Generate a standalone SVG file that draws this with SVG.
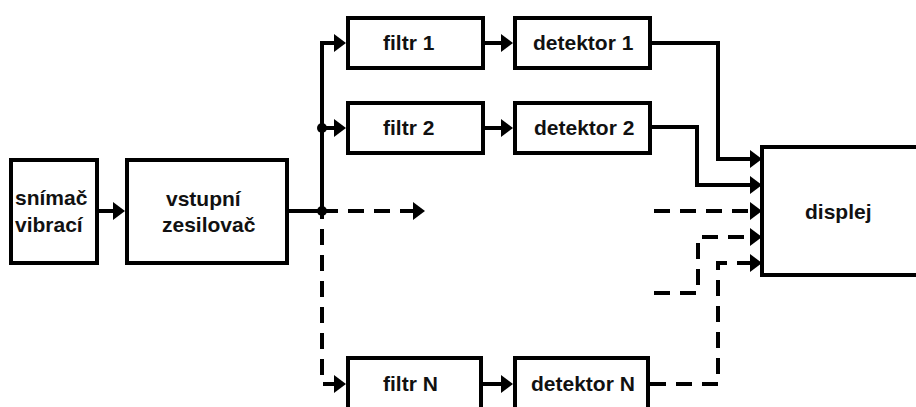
<svg xmlns="http://www.w3.org/2000/svg" width="916" height="407" viewBox="0 0 916 407">
  <style>
    .box { fill: #ffffff; stroke: #000000; stroke-width: 4; }
    .lbl { font-family: "Liberation Sans", Arial, sans-serif; font-weight: bold; font-size: 21px; fill: #111111; }
    .wire { fill: none; stroke: #000000; stroke-width: 4; stroke-linejoin: miter; }
    .arrow { marker-end: url(#head); }
    .dash { stroke-dasharray: 16 10; }
  </style>
  <defs>
    <marker id="head" viewBox="0 0 12 18" refX="9" refY="9" markerWidth="12" markerHeight="18" markerUnits="userSpaceOnUse" orient="auto">
      <path d="M0,0 L12,9 L0,18 z" fill="#000000"/>
    </marker>
  </defs>
  <rect width="916" height="407" fill="#ffffff"/>

  <!-- signal connectors -->
  <g id="connectors">
    <path class="wire arrow" d="M99 211 H122"/>
    <path class="wire" d="M289 211 H322"/>
    <path class="wire arrow" d="M322 211 V43 H343"/>
    <path class="wire arrow" d="M322 128 H343"/>
    <path class="wire dash arrow" d="M322 211 H422"/>
    <path class="wire dash arrow" d="M322 211 V384 H343" stroke-dashoffset="8"/>
    <path class="wire arrow" d="M485 43 H510"/>
    <path class="wire arrow" d="M485 128 H510"/>
    <path class="wire arrow" d="M483 384 H510"/>
    <path class="wire arrow" d="M652 43 H718 V159 H759"/>
    <path class="wire arrow" d="M652 127 H697 V185 H759"/>
    <path class="wire dash arrow" d="M654 211 H759"/>
    <path class="wire dash arrow" d="M654 293 H698 V237 H759"/>
    <path class="wire dash arrow" d="M650 384 H718 V263 H759"/>
    <circle cx="322" cy="211" r="5" fill="#000000"/>
    <circle cx="322" cy="128" r="5" fill="#000000"/>
  </g>

  <g id="snimac">
    <rect class="box" x="11" y="160" width="86" height="103"/>
    <text class="lbl" x="15" y="205">snímač</text>
    <text class="lbl" x="15" y="232">vibrací</text>
  </g>

  <g id="zesilovac">
    <rect class="box" x="127" y="160" width="160" height="103"/>
    <text class="lbl" x="166" y="206">vstupní</text>
    <text class="lbl" x="162" y="232">zesilovač</text>
  </g>

  <g id="filtr1">
    <rect class="box" x="348" y="18" width="135" height="50"/>
    <text class="lbl" x="383" y="50">filtr 1</text>
  </g>
  <g id="detektor1">
    <rect class="box" x="515" y="18" width="135" height="50"/>
    <text class="lbl" x="533" y="50">detektor 1</text>
  </g>

  <g id="filtr2">
    <rect class="box" x="348" y="103" width="135" height="50"/>
    <text class="lbl" x="383" y="135">filtr 2</text>
  </g>
  <g id="detektor2">
    <rect class="box" x="515" y="103" width="135" height="50"/>
    <text class="lbl" x="534" y="135">detektor 2</text>
  </g>

  <g id="filtrN">
    <rect class="box" x="348" y="358" width="133" height="54"/>
    <text class="lbl" x="383" y="391">filtr N</text>
  </g>
  <g id="detektorN">
    <rect class="box" x="515" y="358" width="133" height="54"/>
    <text class="lbl" x="531" y="391">detektor N</text>
  </g>

  <g id="displej">
    <rect class="box" x="762" y="147" width="200" height="128"/>
    <text class="lbl" x="805" y="219">displej</text>
  </g>
</svg>
